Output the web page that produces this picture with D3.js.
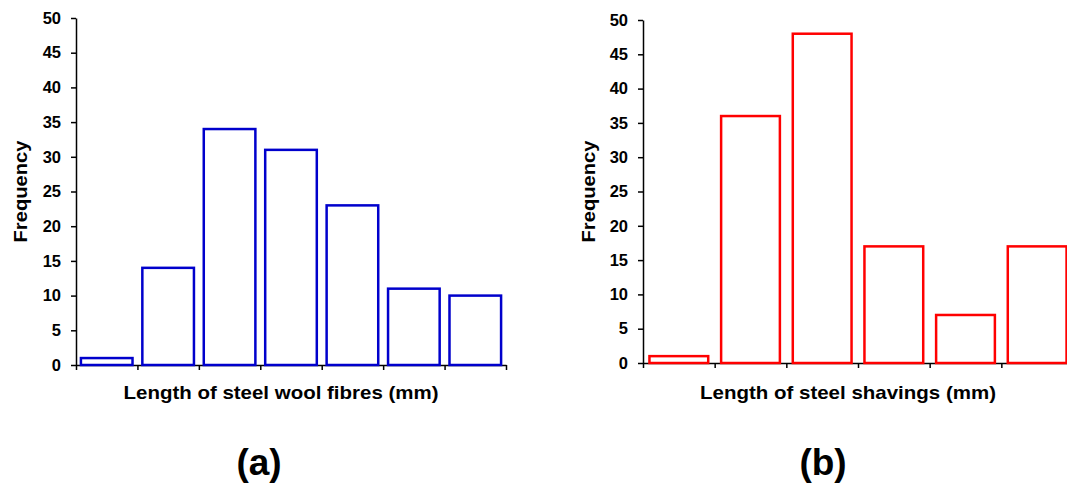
<!DOCTYPE html>
<html>
<head>
<meta charset="utf-8">
<title>Steel fibre length histograms</title>
<style>
  body { margin: 0; background: #fff; }
  svg { display: block; font-family: "Liberation Sans", Arial, sans-serif; font-weight: bold; }
  .domain, .tick line { stroke: #000; stroke-width: 1.5px; }
</style>
</head>
<body>
<svg id="chart" width="1067" height="483"></svg>
<script src="https://d3js.org/d3.v7.min.js"></script>
<script>
// data
const woolBins = ["b1", "b2", "b3", "b4", "b5", "b6", "b7"];
const woolFreq = [1, 14, 34, 31, 23, 11, 10];
const shavingBins = ["b1", "b2", "b3", "b4", "b5", "b6"];
const shavingFreq = [1, 36, 48, 17, 7, 17];
const yTicks = [0, 5, 10, 15, 20, 25, 30, 35, 40, 45, 50];

const svg = d3.select("#chart");

function drawPanel(opts) {
  const g = svg.append("g");
  const y = d3.scaleLinear().domain([0, 50]).range([opts.bottom, opts.top]);
  const x = d3.scaleBand().domain(opts.bins).range([opts.left, opts.right])
    .paddingInner(opts.pad).paddingOuter(opts.pad / 2);
  const xi = d3.scaleLinear().domain([0, opts.bins.length]).range([opts.left, opts.right]);

  const yAxis = g.append("g")
    .attr("transform", "translate(" + opts.left + ",0)")
    .call(d3.axisLeft(y).tickValues(yTicks).tickSize(5).tickSizeOuter(0).tickPadding(10));
  yAxis.attr("font-family", "Liberation Sans, Arial, sans-serif").attr("font-size", null);
  yAxis.selectAll(".tick text")
    .style("font-size", "16.5px")
    .style("font-weight", "bold")
    .attr("fill", "#000");

  g.append("g")
    .attr("transform", "translate(0," + opts.bottom + ")")
    .call(d3.axisBottom(xi).tickValues(d3.range(opts.bins.length + 1))
      .tickFormat("").tickSize(5).tickSizeOuter(0));

  g.selectAll("rect.bar")
    .data(opts.values)
    .join("rect")
    .attr("class", "bar")
    .attr("x", (d, i) => x(opts.bins[i]))
    .attr("width", x.bandwidth())
    .attr("y", d => y(d))
    .attr("height", d => y(0) - y(d))
    .attr("fill", "none")
    .attr("stroke", opts.color)
    .attr("stroke-width", 2.5);

  g.append("text")
    .attr("transform", "translate(" + opts.yLabelX + "," + ((opts.top + opts.bottom) / 2) + ") rotate(-90)")
    .attr("text-anchor", "middle")
    .attr("dy", "0.35em")
    .attr("font-size", 19)
    .attr("textLength", 102)
    .attr("lengthAdjust", "spacingAndGlyphs")
    .text("Frequency");

  g.append("text")
    .attr("x", opts.xLabelX)
    .attr("y", 399)
    .attr("text-anchor", "middle")
    .attr("font-size", 19)
    .attr("textLength", opts.xLabelLen)
    .attr("lengthAdjust", "spacingAndGlyphs")
    .text(opts.xLabel);

  g.append("text")
    .attr("x", opts.tagX)
    .attr("y", 475)
    .attr("text-anchor", "middle")
    .attr("font-size", 37)
    .text(opts.tag);
}

drawPanel({
  bins: woolBins, values: woolFreq, color: "#0000CC",
  left: 76, right: 506, top: 18, bottom: 365, pad: 0.16,
  yLabelX: 20, xLabelX: 281, xLabelLen: 315, xLabel: "Length of steel wool fibres (mm)",
  tagX: 259, tag: "(a)"
});

drawPanel({
  bins: shavingBins, values: shavingFreq, color: "#FF0000",
  left: 643, right: 1073, top: 20, bottom: 363, pad: 0.18,
  yLabelX: 588, xLabelX: 848, xLabelLen: 296, xLabel: "Length of steel shavings (mm)",
  tagX: 823, tag: "(b)"
});
</script>
</body>
</html>
